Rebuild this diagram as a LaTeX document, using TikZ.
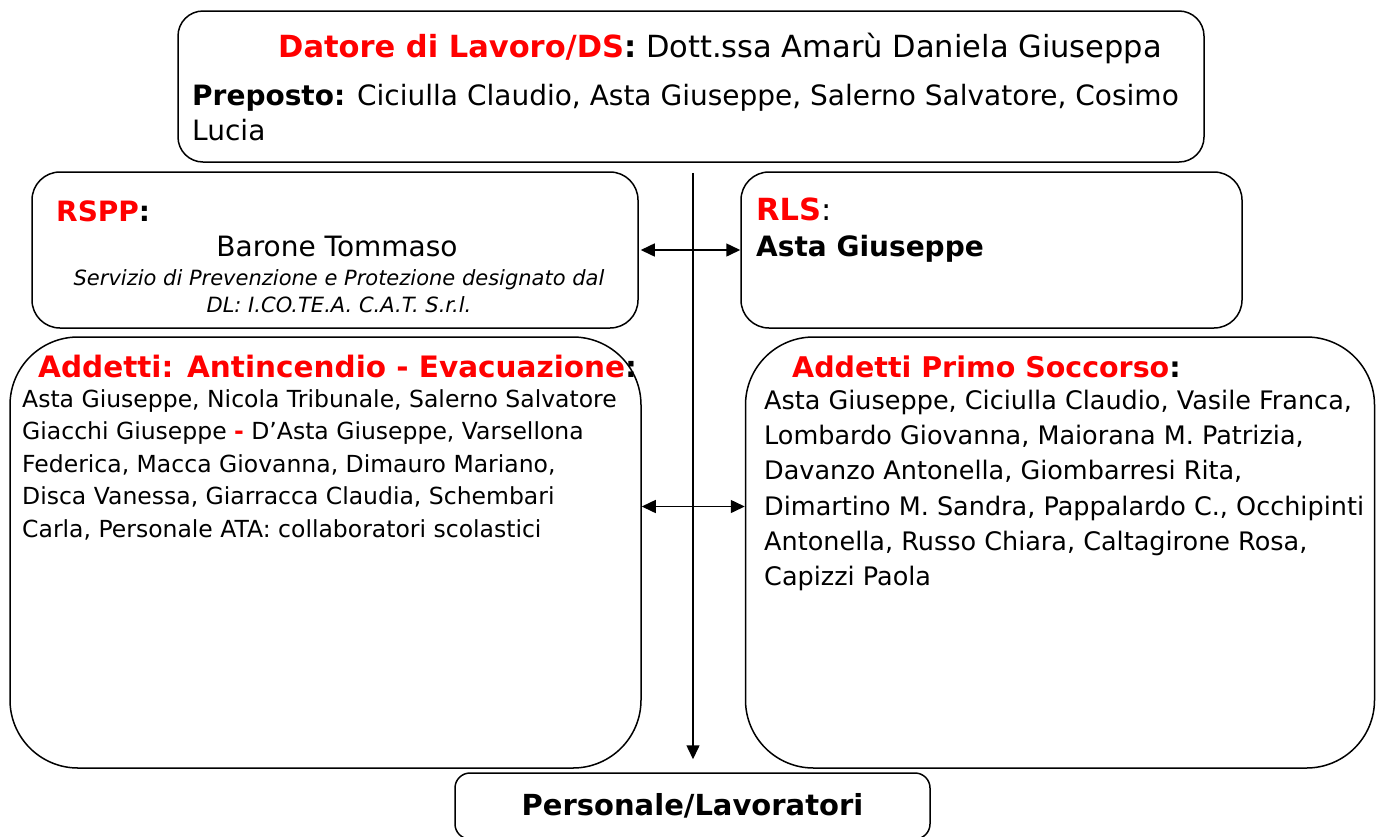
\documentclass[tikz,border=0pt]{standalone}
\usepackage{fontspec}
\setmainfont{DejaVu Sans}
\usetikzlibrary{positioning,arrows.meta}
\definecolor{rolered}{RGB}{255,0,0}
\newcommand\fsTop{\fontsize{30.5}{34}\selectfont}
\newcommand\fsHead{\fontsize{28}{35}\selectfont}
\newcommand\fsTitle{\fontsize{29.5}{34}\selectfont}
\newcommand\fsName{\fontsize{25.5}{35.2}\selectfont}
\newcommand\fsList{\fontsize{23.5}{32.5}\selectfont}
\newcommand\fsNote{\fontsize{21}{27}\selectfont}
\newcommand\role[1]{\textbf{\textcolor{rolered}{#1}}}
\tikzset{
    box/.style ={
        draw=black,
        line width=1.5pt,
        rounded corners=25pt,
        inner sep=0pt
    },
    bigbox/.style ={
        box,
        rounded corners=68pt
    },
    line/.style ={
        anchor=base west,
        inner sep=0pt
    },
    block/.style ={
        anchor=north west,
        align=left,
        inner sep=0pt
    },
    flow/.style ={
        line width=1.5pt,
        -{Triangle[length=14pt,width=13pt]}
    },
    link/.style ={
        line width=1.5pt,
        {Triangle[length=14pt,width=13pt]}-{Triangle[length=14pt,width=13pt]}
    }
}
\begin{document}
\begin{tikzpicture}[x=1pt,y=-1pt]
    \useasboundingbox (0,0) rectangle (1376,836);
    % boxes
    \node[box,minimum width=1026pt,minimum height=151pt] (dl) at (691,86.5) {};
    \node[box,rounded corners=28pt,minimum width=606pt,minimum height=156pt] (rspp) at (335,250) {};
    \node[box,rounded corners=28pt,minimum width=501pt,minimum height=156pt] (rls) at (991.5,250) {};
    \node[bigbox,minimum width=631pt,minimum height=431pt] (antinc) at (325.5,552.5) {};
    \node[bigbox,minimum width=629pt,minimum height=431pt] (soccorso) at (1060,552.5) {};
    \node[box,rounded corners=15pt,minimum width=475pt,minimum height=66pt,
          font=\fontsize{29}{34}\selectfont\bfseries] (personale) at (692.5,806) {Personale/Lavoratori};
    % texts
    \node[line,font=\fsTop] (dltext) at (278,57)
        {\role{Datore di Lavoro/DS}\textbf{:} Dott.ssa Amarù Daniela Giuseppa};
    \node[block,font=\fsHead] (preposto) at (192,84)
        {\textbf{Preposto:} Ciciulla Claudio, Asta Giuseppe, Salerno Salvatore, Cosimo\\Lucia};
    \node[line,font=\fsHead] (rsppname) at (56,221) {\role{RSPP}\textbf{:}};
    \node[anchor=base,inner sep=0pt,font=\fsHead] (barone) at (337,256) {Barone Tommaso};
    \node[anchor=north,align=center,inner sep=0pt,font=\fsNote\itshape] (spp) at (339,269)
        {Servizio di Prevenzione e Protezione designato dal\\DL: I.CO.TE.A. C.A.T. S.r.l.};
    \node[line,font=\fsTop] (rlsname) at (756,220) {\role{RLS}:};
    \node[line,font=\fsHead\bfseries] (asta) at (756,256) {Asta Giuseppe};
    \node[line,font=\fsTitle] (antinctitle) at (38,377)
        {\role{Addetti: Antincendio - Evacuazione}\textbf{:}};
    \node[block,font=\fsList] (antinclist) at (22,389)
        {Asta Giuseppe, Nicola Tribunale, Salerno Salvatore\\
         Giacchi Giuseppe \role{-} D’Asta Giuseppe, Varsellona\\
         Federica, Macca Giovanna, Dimauro Mariano,\\
         Disca Vanessa, Giarracca Claudia, Schembari\\
         Carla, Personale ATA: collaboratori scolastici};
    \node[line,font=\fontsize{28.5}{34}\selectfont] (soccorsotitle) at (792,377)
        {\role{Addetti Primo Soccorso}\textbf{:}};
    \node[block,font=\fsName] (soccorsolist) at (764,390)
        {Asta Giuseppe, Ciciulla Claudio, Vasile Franca,\\
         Lombardo Giovanna, Maiorana M. Patrizia,\\
         Davanzo Antonella, Giombarresi Rita,\\
         Dimartino M. Sandra, Pappalardo C., Occhipinti\\
         Antonella, Russo Chiara, Caltagirone Rosa,\\
         Capizzi Paola};
    % connectors
    \coordinate (antincarrow) at ([yshift=46pt]antinc.east);
    \draw[flow] ([xshift=2pt,yshift=-10pt]dl.south) -- ([xshift=2pt,yshift=13pt]dl.south |- personale.north);
    \draw[link] ([xshift=2pt]rspp.east) -- (rls.west);
    \draw[link] (antincarrow) -- (soccorso.west |- antincarrow);
\end{tikzpicture}
\end{document}
